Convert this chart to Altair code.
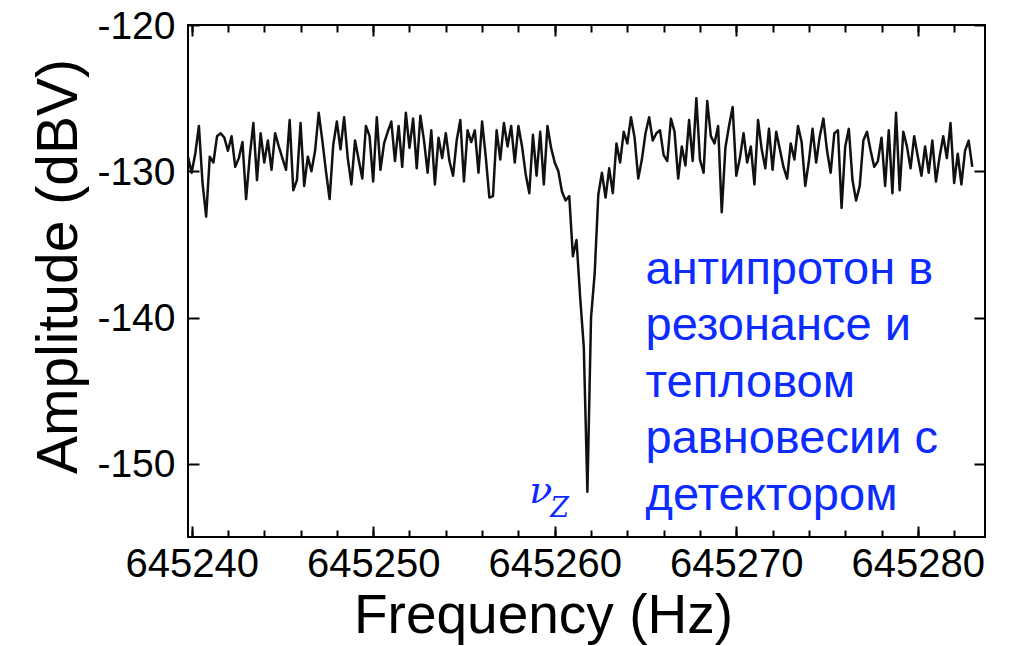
import altair as alt
import pandas as pd

# ---------------- data ----------------
FREQ_START = 645239.8   # Hz, first sample of the sweep
FREQ_STEP = 0.2         # Hz, sweep resolution

AMP_SEG1 = [-129.0, -130.1, -128.8, -126.9, -130.8, -133.1, -129.0, -129.4, -127.6, -127.4,
            -127.7, -128.6, -127.6, -129.7, -129.1, -128.0, -131.9, -129.0, -126.7, -130.6,
            -127.4, -129.4, -127.9, -129.9, -127.4, -128.3, -129.1, -129.9, -126.5]
AMP_SEG2 = [-131.3, -130.6, -126.7, -131.0, -129.0, -130.0, -128.6, -126.0, -127.9, -130.0,
            -131.9, -128.2, -126.6, -128.5, -126.3, -129.1, -130.9, -127.9, -129.2, -130.5,
            -126.9, -127.6, -130.7, -126.3, -129.9, -128.1, -127.3]
AMP_SEG3 = [-126.6, -129.3, -126.9, -129.7, -126.0, -128.4, -126.4, -129.8, -126.2, -127.9,
            -130.1, -127.2, -130.9, -127.7, -129.1, -127.4, -129.3, -130.3, -127.9, -126.5,
            -130.7, -127.2, -128.0, -127.2, -130.1, -126.6, -129.0, -131.8]
AMP_SEG4 = [-131.7, -127.2, -129.2, -126.7, -128.3, -126.9, -129.4, -126.9, -128.3, -130.2,
            -131.5, -127.5, -130.3, -127.3, -130.9, -126.9, -128.4, -129.4, -130.0, -131.4,
            -132.0, -131.7, -135.8, -134.7, -138.6, -142.0, -151.9, -140.0, -137.0, -131.6,
            -130.1, -131.8, -129.8, -131.5, -128.1, -129.4, -127.3, -128.1, -126.3, -127.7]
AMP_SEG5 = [-130.5, -129.2, -127.4, -126.3, -127.9, -127.4, -127.2, -128.9, -129.3, -126.4,
            -127.3, -130.5, -128.3, -129.6, -126.5, -129.3, -125.0, -129.2, -130.1, -125.2,
            -127.6, -128.1, -126.9, -132.8, -128.4, -126.9, -125.6, -130.3, -129.1, -127.4,
            -129.4, -128.3]
AMP_SEG6 = [-130.9, -126.5, -128.5, -129.8, -127.1, -129.9, -127.3, -128.5, -129.7, -130.5,
            -128.1, -129.2, -126.9, -128.0, -131.0, -129.3, -127.1, -129.4, -127.6, -126.4,
            -128.6, -130.1, -127.4, -127.2, -132.5, -128.3, -127.1, -130.6, -132.0, -131.0,
            -127.9]
AMP_SEG7 = [-127.3, -128.6, -129.7, -129.3, -127.7, -131.0, -127.2, -131.5, -126.0, -131.3,
            -127.3, -128.3, -129.8, -127.6, -129.0, -130.3, -128.3, -130.1, -127.9, -130.7,
            -129.0, -127.6, -129.1, -126.7, -130.8, -128.8, -130.9, -128.6, -127.9, -129.7]

AMP = AMP_SEG1 + AMP_SEG2 + AMP_SEG3 + AMP_SEG4 + AMP_SEG5 + AMP_SEG6 + AMP_SEG7
FREQ = [round(FREQ_START + FREQ_STEP * i, 2) for i in range(len(AMP))]

X_DOMAIN = [645239.8, 645283.7]
Y_DOMAIN = [-155, -120]
X_MAJOR = [645240, 645250, 645260, 645270, 645280]
X_MINOR = list(range(645240, 645284, 2))
Y_MAJOR = [-150, -140, -130, -120]

ANNOT_LINES = ["антипротон в", "резонансе и", "тепловом", "равновесии с", "детектором"]
ANNOT_FREQ, ANNOT_AMP = [645265.0], [-137.7]
NU_FREQ, NU_AMP = [645258.6], [-152.65]
SUB_FREQ, SUB_AMP = [645259.75], [-153.6]

# ---------------- chart ----------------
FONT = "Liberation Sans"
BLUE = "#0b2bff"

df = pd.DataFrame({"freq": FREQ, "amp": AMP})
ann_df = pd.DataFrame({"freq": ANNOT_FREQ, "amp": ANNOT_AMP})
nu_df = pd.DataFrame({"freq": NU_FREQ, "amp": NU_AMP})
sub_df = pd.DataFrame({"freq": SUB_FREQ, "amp": SUB_AMP})

xs = alt.Scale(domain=X_DOMAIN, nice=False, zero=False)
ys = alt.Scale(domain=Y_DOMAIN, nice=False, zero=False)

def X(axis):
    return alt.X("freq:Q", scale=xs, axis=axis)

def Y(axis):
    return alt.Y("amp:Q", scale=ys, axis=axis)

base_ax = dict(domain=False, grid=False, tickColor="black", tickWidth=2,
               labelFont=FONT, labelColor="black", titleFont=FONT,
               titleColor="black", titleFontWeight="normal")

x_bottom_major = alt.Axis(orient="bottom", values=X_MAJOR, offset=-11, tickSize=11,
                          labelFontSize=40, labelPadding=7, labelExpr="'' + datum.value",
                          labelFlush=False, labelOverlap=False,
                          title="Frequency (Hz)", titleFontSize=55, titleX=355, titleY=106,
                          titleBaseline="alphabetic", **base_ax)
x_bottom_minor = alt.Axis(orient="bottom", values=X_MINOR, offset=-7, tickSize=7,
                          labels=False, title="", **base_ax)
x_top_major = alt.Axis(orient="top", values=X_MAJOR, offset=-11, tickSize=11,
                       labels=False, title="", **base_ax)
x_top_minor = alt.Axis(orient="top", values=X_MINOR, offset=-7, tickSize=7,
                       labels=False, title="", **base_ax)

y_left = alt.Axis(orient="left", values=Y_MAJOR, offset=-11, tickSize=11,
                  labelFontSize=39, labelPadding=13, labelExpr="'' + datum.value",
                  labelFlush=False, labelOverlap=False, labelOffset=1,
                  title="Amplitude (dBV)", titleFontSize=57, titlePadding=8, titleY=241,
                  **base_ax)
y_right = alt.Axis(orient="right", values=Y_MAJOR, offset=-11, tickSize=11,
                   labels=False, title="", **base_ax)

line = alt.Chart(df).mark_line(color="#111111", strokeWidth=2.5, strokeJoin="round").encode(
    x=X(x_bottom_major), y=Y(y_left))
ticks2 = alt.Chart(df).mark_line(opacity=0).encode(x=X(x_bottom_minor), y=Y(y_right))
ticks3 = alt.Chart(df).mark_line(opacity=0).encode(x=X(x_top_major), y=Y(None))
ticks4 = alt.Chart(df).mark_line(opacity=0).encode(x=X(x_top_minor), y=Y(None))

annot = alt.Chart(ann_df).mark_text(
    text=ANNOT_LINES, align="left", baseline="alphabetic", font=FONT,
    fontSize=47, lineHeight=56.5, color=BLUE).encode(x=X(None), y=Y(None))
nu = alt.Chart(nu_df).mark_text(
    text="ν", align="left", baseline="alphabetic", font="DejaVu Serif",
    fontStyle="italic", fontSize=38, color=BLUE).encode(x=X(None), y=Y(None))
sub = alt.Chart(sub_df).mark_text(
    text="Z", align="left", baseline="alphabetic", font="DejaVu Serif",
    fontStyle="italic", fontSize=27, color=BLUE).encode(x=X(None), y=Y(None))

chart = alt.layer(line, ticks2, ticks3, ticks4, annot, nu, sub).resolve_axis(
    x="independent", y="independent"
).properties(
    width=797, height=512,
    autosize=alt.AutoSizeParams(type="none"),
    padding={"left": 188, "top": 25, "right": 28, "bottom": 109},
    background="white",
).configure_view(stroke="black", strokeWidth=2)

chart.save("out.html", embed_options={"renderer": "svg", "actions": False})
